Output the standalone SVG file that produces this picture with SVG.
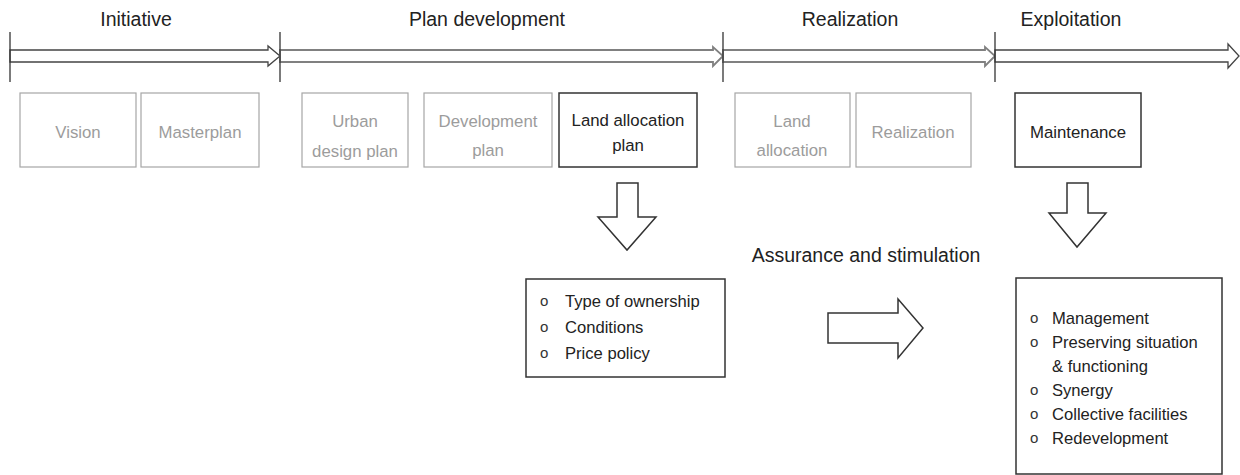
<svg xmlns="http://www.w3.org/2000/svg" width="1240" height="475" viewBox="0 0 1240 475">
<style>
text{font-family:"Liberation Sans",Arial,sans-serif}
.title{font-size:19.5px;fill:#222;text-anchor:middle}
.lbl{font-size:16.8px;text-anchor:middle}
.light rect{fill:#fff;stroke:#a6a6a6;stroke-width:1.2}
.light text{fill:#9c9c9c}
.dark rect{fill:#fff;stroke:#333;stroke-width:1.5}
.dark text{fill:#222}
.item{font-size:16.6px;fill:#222}
.bul{font-size:15px;fill:#333}
.tick{stroke:#333;stroke-width:1.3}
.blk{fill:#fff;stroke:#333;stroke-width:1.5;stroke-linejoin:miter}
.tl1{fill:#fff;stroke:#444;stroke-width:1.3}
.tl2{fill:#fff;stroke:#808080;stroke-width:1.8}
</style>

<g id="timeline">
  <polygon class="tl1" points="10,50 268,50 268,46 280,56 268,66 268,62 10,62"/>
  <polygon class="tl2" points="280,50 713,50 713,47 723,56 713,66 713,62 280,62"/>
  <polygon class="tl2" points="723,50 985,50 985,47 995,56 985,66 985,62 723,62"/>
  <polygon class="tl1" points="995,50 1228,50 1228,44 1239,56 1228,68 1228,62 995,62"/>
  <line class="tick" x1="10" y1="32" x2="10" y2="82"/>
  <line class="tick" x1="280" y1="32" x2="280" y2="82"/>
  <line class="tick" x1="723" y1="32" x2="723" y2="82"/>
  <line class="tick" x1="995" y1="32" x2="995" y2="82"/>
</g>

<g id="phase-titles">
  <text class="title" x="136" y="26">Initiative</text>
  <text class="title" x="487" y="26">Plan development</text>
  <text class="title" x="850" y="26">Realization</text>
  <text class="title" x="1071" y="26">Exploitation</text>
</g>

<g id="vision" class="light">
  <rect x="20" y="93" width="116" height="74"/>
  <text class="lbl" x="78" y="138">Vision</text>
</g>
<g id="masterplan" class="light">
  <rect x="141" y="93" width="118" height="74"/>
  <text class="lbl" x="200" y="138">Masterplan</text>
</g>
<g id="urban-design-plan" class="light">
  <rect x="302" y="93" width="106" height="74"/>
  <text class="lbl" x="355" y="127">Urban</text>
  <text class="lbl" x="355" y="157">design plan</text>
</g>
<g id="development-plan" class="light">
  <rect x="424" y="93" width="128" height="74"/>
  <text class="lbl" x="488" y="127">Development</text>
  <text class="lbl" x="488" y="156">plan</text>
</g>
<g id="land-allocation-plan" class="dark">
  <rect x="559" y="93" width="138" height="74"/>
  <text class="lbl" x="628" y="126">Land allocation</text>
  <text class="lbl" x="628" y="151">plan</text>
</g>
<g id="land-allocation" class="light">
  <rect x="735" y="93" width="115" height="74"/>
  <text class="lbl" x="792" y="127">Land</text>
  <text class="lbl" x="792" y="156">allocation</text>
</g>
<g id="realization" class="light">
  <rect x="856" y="93" width="115" height="74"/>
  <text class="lbl" x="913" y="138">Realization</text>
</g>
<g id="maintenance" class="dark">
  <rect x="1015" y="93" width="126" height="74"/>
  <text class="lbl" x="1078" y="138">Maintenance</text>
</g>

<g id="connectors">
  <polygon class="blk" points="617,183 638,183 638,217 656,217 627,250 598,217 617,217"/>
  <polygon class="blk" points="1067,183 1088,183 1088,213 1106,213 1077,247 1049,213 1067,213"/>
  <polygon class="blk" points="828,313 898,313 898,299 923,328 898,358 898,343 828,343"/>
</g>

<g id="assurance-label">
  <text class="title" x="866" y="262">Assurance and stimulation</text>
</g>

<g id="land-allocation-list">
  <rect x="526" y="279" width="199" height="98" fill="#fff" stroke="#333" stroke-width="1.5"/>
  <text class="bul" x="540" y="306">o</text>
  <text class="item" x="565" y="307">Type of ownership</text>
  <text class="bul" x="540" y="332">o</text>
  <text class="item" x="565" y="333">Conditions</text>
  <text class="bul" x="540" y="358">o</text>
  <text class="item" x="565" y="359">Price policy</text>
</g>

<g id="maintenance-list">
  <rect x="1016" y="278" width="206" height="196" fill="#fff" stroke="#333" stroke-width="1.5"/>
  <text class="bul" x="1030" y="323">o</text>
  <text class="item" x="1052" y="324">Management</text>
  <text class="bul" x="1030" y="347">o</text>
  <text class="item" x="1052" y="348">Preserving situation</text>
  <text class="item" x="1052" y="372">&amp; functioning</text>
  <text class="bul" x="1030" y="395">o</text>
  <text class="item" x="1052" y="396">Synergy</text>
  <text class="bul" x="1030" y="419">o</text>
  <text class="item" x="1052" y="420">Collective facilities</text>
  <text class="bul" x="1030" y="443">o</text>
  <text class="item" x="1052" y="444">Redevelopment</text>
</g>
</svg>
